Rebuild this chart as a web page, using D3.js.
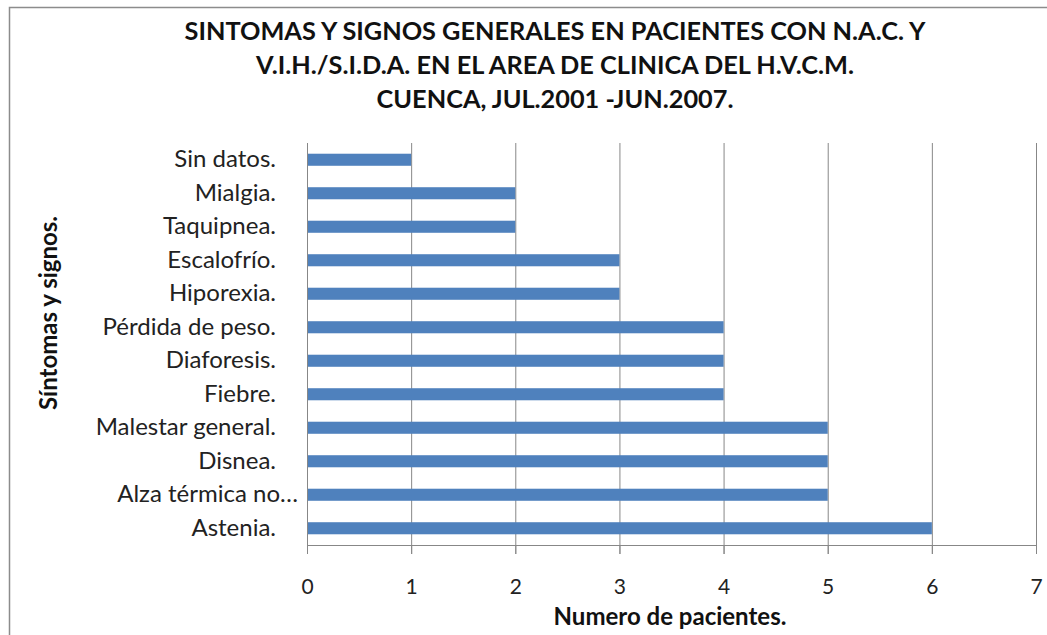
<!DOCTYPE html>
<html>
<head>
<meta charset="utf-8">
<script src="https://cdn.jsdelivr.net/npm/d3@7.9.0/dist/d3.min.js"></script>
<style>
  body { margin: 0; background: #fff; }
  svg { display: block; font-family: Lato, "Open Sans", sans-serif; }
</style>
</head>
<body>
<div id="chart"></div>
<script>
// síntomas (de abajo hacia arriba, como en Excel)
const categories = [
  "Astenia.", "Alza térmica no…", "Disnea.", "Malestar general.", "Fiebre.",
  "Diaforesis.", "Pérdida de peso.", "Hiporexia.", "Escalofrío.",
  "Taquipnea.", "Mialgia.", "Sin datos."
];
const values = [6, 5, 5, 5, 4, 4, 4, 3, 3, 2, 2, 1];
const xTicks = [0, 1, 2, 3, 4, 5, 6, 7];
const titleLines = [
  "SINTOMAS Y SIGNOS GENERALES EN PACIENTES CON N.A.C. Y",
  "V.I.H./S.I.D.A. EN EL AREA DE CLINICA DEL H.V.C.M.",
  "CUENCA, JUL.2001 -JUN.2007."
];

const width = 1047, height = 635;
const plot = { left: 307, right: 1036, top: 143, bottom: 545 };

const svg = d3.select("#chart").append("svg")
  .attr("width", width).attr("height", height);

// marco exterior
svg.append("path")
  .attr("d", `M9.5,${height} V7.5 H${width}`)
  .attr("fill", "none").attr("stroke", "#8c8c8c").attr("stroke-width", 1.5);

const x = d3.scaleLinear().domain([0, 7]).range([plot.left, plot.right]);
const y = d3.scaleBand()
  .domain(categories.slice().reverse())
  .range([plot.top, plot.bottom])
  .paddingInner(0.64).paddingOuter(0.32);

// gridlines verticales
svg.append("g")
  .selectAll("line")
  .data(xTicks.slice(1))
  .join("line")
  .attr("x1", d => x(d) + 0.5).attr("x2", d => x(d) + 0.5)
  .attr("y1", plot.top).attr("y2", plot.bottom + 9)
  .attr("stroke", "#878787").attr("stroke-width", 1);

// barras
svg.append("g")
  .selectAll("rect")
  .data(categories)
  .join("rect")
  .attr("x", x(0))
  .attr("y", d => y(d))
  .attr("width", (d, i) => x(values[i]) - x(0))
  .attr("height", y.bandwidth())
  .attr("fill", "#4f81bd");

// eje x
const xAxis = svg.append("g")
  .attr("transform", `translate(0,${plot.bottom})`)
  .call(d3.axisBottom(x).tickValues(xTicks).tickFormat(d3.format("d"))
    .tickSize(9).tickPadding(25).tickSizeOuter(0));
xAxis.select(".domain").attr("stroke", "#878787");
xAxis.selectAll(".tick line").attr("stroke", "#878787");
xAxis.selectAll(".tick text")
  .attr("font-size", 21).attr("fill", "#222").attr("font-family", "Lato, sans-serif");

// eje y
const yAxis = svg.append("g")
  .attr("transform", `translate(${plot.left},0)`)
  .call(d3.axisLeft(y).tickSize(0).tickPadding(31));
yAxis.select(".domain").remove();
yAxis.selectAll(".tick text")
  .attr("font-size", 24).attr("fill", "#222").attr("font-family", "Lato, sans-serif")
  .attr("dx", d => d.endsWith("…") ? 22 : 0);
svg.append("line")
  .attr("x1", plot.left + 0.5).attr("x2", plot.left + 0.5)
  .attr("y1", plot.top).attr("y2", plot.bottom + 9)
  .attr("stroke", "#878787");

// título
svg.append("g")
  .selectAll("text")
  .data(titleLines)
  .join("text")
  .attr("x", 555).attr("y", (d, i) => 40 + i * 34)
  .attr("text-anchor", "middle")
  .attr("font-size", 25.3).attr("font-weight", "bold").attr("fill", "#111")
  .text(d => d);

// títulos de ejes
svg.append("text")
  .attr("x", 670).attr("y", 625)
  .attr("text-anchor", "middle")
  .attr("font-size", 24).attr("font-weight", "bold").attr("fill", "#111")
  .text("Numero de pacientes.");

svg.append("text")
  .attr("transform", `translate(57,313) rotate(-90)`)
  .attr("text-anchor", "middle")
  .attr("font-size", 24).attr("font-weight", "bold").attr("fill", "#111")
  .text("Síntomas y signos.");
</script>
</body>
</html>
